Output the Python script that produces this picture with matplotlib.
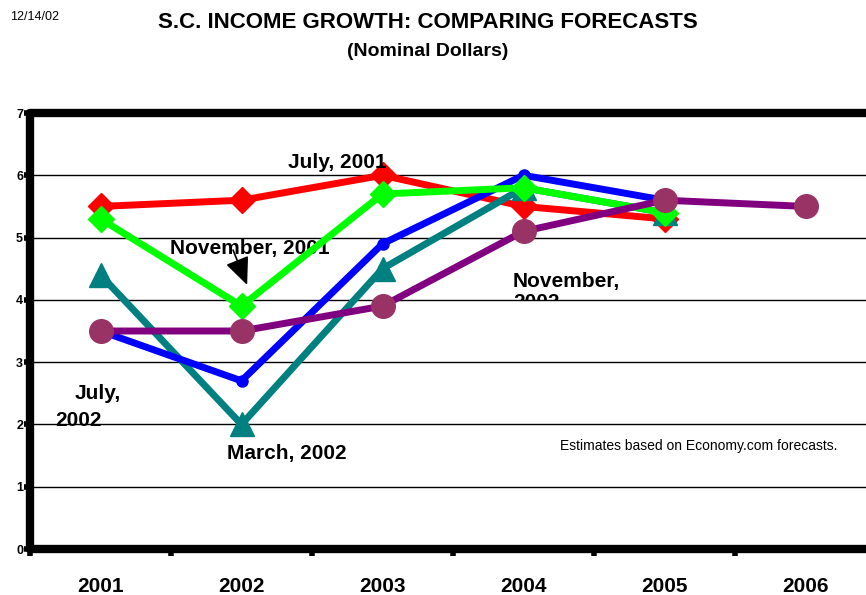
import matplotlib
matplotlib.use('Agg')
import matplotlib.pyplot as plt
from matplotlib.patches import Rectangle

plt.rcParams['font.family'] = ['Liberation Sans', 'DejaVu Sans']

# data
years = ['2001', '2002', '2003', '2004', '2005', '2006']
july_2001 = [5.5, 5.6, 6.0, 5.5, 5.3]
nov_2001 = [5.3, 3.9, 5.7, 5.8, 5.4]
march_2002 = [4.4, 2.0, 4.5, 5.8, 5.4]
july_2002 = [3.5, 2.7, 4.9, 6.0, 5.6]
nov_2002 = [3.5, 3.5, 3.9, 5.1, 5.6, 5.5]

fig = plt.figure(figsize=(8.66, 5.95), dpi=100)
ax = fig.add_axes([30/866, 46/595, 846/866, 436/595])

x5 = list(range(len(july_2001)))
x6 = list(range(len(nov_2002)))

ax.plot(x5, july_2001, color='#ff0000', lw=5, marker='D', ms=13, zorder=3)
ax.plot(x5, march_2002, color='#008080', lw=5, marker='^', ms=17, zorder=4)
ax.plot(x5, july_2002, color='#0000ff', lw=5, marker='o', ms=8, zorder=5)
ax.plot(x5, nov_2001, color='#00ff00', lw=5, marker='D', ms=13, zorder=6)
ax.plot(x6, nov_2002, color='#800080', lw=5, marker='o', ms=17,
        mfc='#993366', mec='#993366', zorder=7)

ax.set_xlim(-0.5, 5.5)
ax.set_ylim(0, 7)

# grid
for g in range(1, 7):
    ax.axhline(g, color='black', lw=1, zorder=1)

ax.spines['left'].set_linewidth(6)
ax.spines['bottom'].set_linewidth(6)
ax.spines['top'].set_linewidth(6)
ax.spines['right'].set_visible(False)
for s in ['left', 'bottom', 'top']:
    ax.spines[s].set_capstyle('round')

ax.set_xticks([i - 0.5 for i in range(6)])
ax.set_xticklabels([])
ax.set_xticks(range(6), minor=True)
ax.set_xticklabels(years, minor=True, fontsize=15, fontweight='bold')
ax.tick_params(axis='x', which='major', length=5, width=4, direction='out')
ax.tick_params(axis='x', which='minor', length=0, pad=20)
ax.set_yticks(range(8))
ax.set_yticklabels([str(v) for v in range(8)], fontsize=9, fontweight='bold')
ax.tick_params(axis='y', length=4, width=4, pad=1)

# labels
ax.text(1.68, 6.2, 'July, 2001', fontsize=15, fontweight='bold', ha='center', va='center')
ax.text(1.06, 4.83, 'November, 2001', fontsize=15, fontweight='bold',
        ha='center', va='center')
ax.annotate('', xy=(1.04, 4.24), xytext=(0.94, 4.8),
            arrowprops=dict(arrowstyle='-|>,head_width=0.75,head_length=1.7',
                            color='black', lw=1.2, shrinkA=0, shrinkB=0))
ax.text(-0.5 + 45/141, 2.5, 'July,', fontsize=15, fontweight='bold', va='center')
ax.text(-0.5 + 25/141, 2.07, '2002', fontsize=15, fontweight='bold', va='center')
ax.text(1.32, 1.54, 'March, 2002', fontsize=15, fontweight='bold', ha='center', va='center')
t = ax.text(-0.5 + 483/141, 4.45, 'November,\n2002', fontsize=15, fontweight='bold',
            ha='left', va='top', linespacing=1.15)
t.set_clip_on(True)
t.set_clip_path(Rectangle((-0.5, 4.0), 6, 3, transform=ax.transData))
ax.text(-0.5 + 530/141, 1.66, 'Estimates based on Economy.com forecasts.', fontsize=10,
        ha='left', va='center')

# growth rate label, clipped at figure edge like the original
fig.text(-0.002, 0.52, 'Growth Rate', rotation=90, fontsize=9, fontweight='bold',
         ha='center', va='center')

fig.text(0.494, 0.963, 'S.C. INCOME GROWTH: COMPARING FORECASTS', fontsize=16,
         fontweight='bold', ha='center', va='center')
fig.text(0.494, 0.914, '(Nominal Dollars)', fontsize=14, fontweight='bold',
         ha='center', va='center')
fig.text(0.012, 0.971, '12/14/02', fontsize=9, ha='left', va='center')

fig.savefig('out.png', dpi=100)
